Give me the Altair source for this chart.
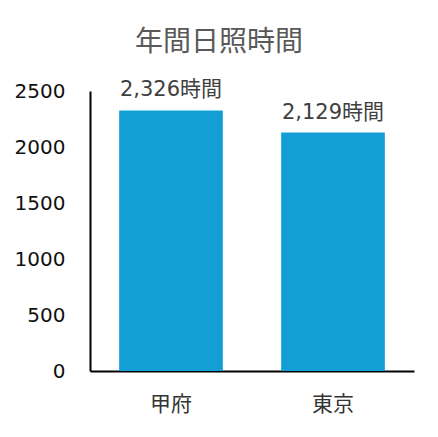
import altair as alt
import pandas as pd

cities = ["甲府", "東京"]
hours = [2326, 2129]
labels = ["2,326時間", "2,129時間"]

df = pd.DataFrame({"city": cities, "hours": hours, "label": labels})

font = "DejaVu Sans, Noto Sans CJK JP"

base = alt.Chart(df).encode(
    x=alt.X("city:N", sort=cities, title=None,
            scale=alt.Scale(paddingInner=0.36, paddingOuter=0.18),
            axis=alt.Axis(labelAngle=0, ticks=False, labelPadding=22, labelFontSize=21,
                          labelColor="#333333", labelFont=font,
                          domainColor="#000000", domainWidth=2)),
    y=alt.Y("hours:Q", title=None,
            scale=alt.Scale(domain=[0, 2500]),
            axis=alt.Axis(values=[0, 500, 1000, 1500, 2000, 2500], format="d", ticks=False, grid=False,
                          labelPadding=25, labelFontSize=20, labelColor="#111111",
                          labelFont=font, domainColor="#000000", domainWidth=2)),
)

bars = base.mark_bar(color="#139fd6")
text = base.mark_text(dy=-14, baseline="alphabetic", fontSize=21, color="#404040",
                      font=font).encode(text="label:N")

chart = (bars + text).properties(
    width=324, height=280,
    title=alt.TitleParams("年間日照時間", fontSize=28, color="#595959", font=font,
                          fontWeight="normal", anchor="middle", frame="bounds", offset=22, dx=5),
).configure(
    padding={"top": 21, "left": 6, "right": 5, "bottom": 5}
).configure_view(stroke="transparent", strokeWidth=0)

chart.save("out.html", embed_options={"renderer": "svg", "actions": False})
